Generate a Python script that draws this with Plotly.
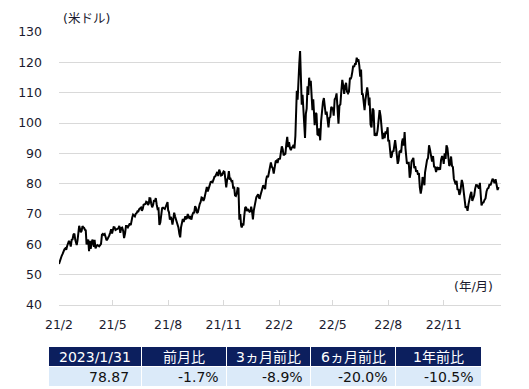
import calendar
import pandas as pd
import plotly.graph_objects as go

# ---- data: WTI daily closes (USD/bbl), read per month ----
months = ["2021-02", "2021-03", "2021-04", "2021-05", "2021-06", "2021-07", "2021-08",
          "2021-09", "2021-10", "2021-11", "2021-12", "2022-01", "2022-02", "2022-03",
          "2022-04", "2022-05", "2022-06", "2022-07", "2022-08", "2022-09", "2022-10",
          "2022-11", "2022-12", "2023-01"]

monthly_values = [
    [53.55, 54.76, 55.69, 56.23, 56.85, 57.97, 58.36, 58.68, 58.24, 59.47, 60.05, 61.14, 60.52, 59.24, 61.49, 61.67, 63.22, 63.53, 61.50],
    [60.64, 59.75, 61.28, 63.83, 66.09, 65.05, 64.01, 64.44, 66.02, 65.61, 65.39, 64.80, 64.60, 60.00, 61.42, 61.55, 57.76, 61.18, 58.56, 60.97, 61.56, 60.55, 59.16],
    [61.45, 58.65, 59.33, 59.77, 59.60, 59.32, 59.70, 60.18, 63.15, 63.46, 63.13, 63.38, 62.44, 61.35, 61.67, 62.14, 62.94, 63.86, 65.01, 63.58],
    [64.49, 65.69, 65.63, 64.71, 64.90, 65.11, 65.28, 66.08, 63.82, 65.37, 65.49, 64.49, 62.05, 63.58, 66.05, 66.07, 65.63, 66.21, 66.85, 66.32],
    [67.72, 68.83, 69.81, 69.62, 69.23, 70.05, 70.29, 70.91, 70.88, 71.64, 72.12, 72.15, 71.04, 71.64, 73.06, 73.08, 73.30, 74.05, 73.91, 72.98, 73.47],
    [75.23, 75.16, 73.37, 72.20, 72.94, 74.56, 74.10, 75.25, 73.13, 71.65, 71.81, 66.42, 67.20, 70.30, 71.91, 72.07, 71.91, 71.65, 72.39, 73.62, 73.95],
    [71.26, 70.56, 68.15, 69.09, 68.28, 66.48, 68.29, 70.44, 69.25, 68.44, 67.29, 66.59, 65.46, 63.50, 62.32, 65.64, 67.54, 68.36, 67.42, 68.74, 69.21, 68.50],
    [68.59, 69.99, 69.29, 68.35, 69.30, 68.14, 69.72, 70.45, 70.46, 72.61, 71.97, 70.29, 70.56, 72.23, 73.30, 73.98, 75.45, 75.29, 74.29, 75.03],
    [75.88, 77.62, 78.93, 77.43, 78.30, 79.35, 80.52, 80.64, 80.44, 81.31, 82.28, 82.44, 82.96, 83.87, 82.50, 84.65, 83.76, 82.66, 82.81, 83.57],
    [84.05, 83.91, 80.86, 78.81, 81.27, 81.93, 84.15, 81.34, 81.59, 80.79, 80.88, 78.36, 79.01, 76.10, 75.94, 76.75, 78.50, 78.39, 68.15, 69.95, 66.18],
    [65.57, 66.50, 66.26, 69.49, 72.05, 72.36, 70.94, 71.67, 71.29, 70.73, 70.87, 72.38, 70.86, 68.23, 71.12, 72.76, 73.79, 75.57, 75.98, 76.56, 75.33, 75.21],
    [76.08, 76.99, 77.85, 79.46, 78.90, 78.23, 81.22, 82.64, 82.12, 83.82, 85.43, 86.96, 85.55, 85.14, 83.31, 85.60, 87.35, 87.61, 86.82, 88.15],
    [88.20, 88.26, 90.27, 92.31, 91.32, 89.36, 89.66, 89.88, 93.10, 95.46, 92.07, 93.66, 91.76, 91.07, 91.91, 92.10, 92.81, 91.59, 95.72],
    [103.41, 110.60, 107.67, 115.68, 119.40, 123.70, 108.70, 106.02, 109.33, 103.01, 96.44, 95.04, 102.98, 104.70, 112.12, 109.27, 114.93, 112.34, 113.90, 105.96, 104.24, 107.82, 100.28],
    [99.27, 103.28, 102.96, 96.23, 96.03, 98.26, 94.29, 100.60, 104.25, 106.95, 108.21, 104.17, 102.75, 103.79, 101.70, 98.54, 101.70, 102.02, 105.36, 104.69],
    [105.17, 102.41, 107.81, 108.26, 109.77, 103.09, 99.76, 105.71, 106.13, 110.49, 114.20, 112.40, 109.59, 112.21, 113.23, 110.29, 109.77, 110.33, 114.67, 114.67],
    [115.26, 116.87, 118.87, 118.50, 119.41, 119.41, 121.51, 120.67, 120.93, 118.93, 115.31, 117.59, 109.56, 109.52, 106.19, 104.27, 107.62, 109.57, 111.76, 109.78, 105.76],
    [108.43, 99.50, 98.53, 104.79, 104.09, 95.84, 96.30, 95.78, 97.59, 102.60, 104.22, 102.26, 96.35, 94.70, 96.70, 94.98, 97.26, 96.42, 98.62],
    [93.89, 94.42, 90.66, 88.54, 89.01, 90.76, 90.50, 91.93, 94.34, 92.09, 89.41, 86.53, 87.65, 90.50, 90.77, 90.23, 93.74, 94.89, 92.52, 97.01, 91.64, 89.55],
    [86.61, 86.87, 86.88, 81.94, 83.54, 87.31, 87.78, 88.48, 85.10, 85.73, 83.94, 84.45, 82.94, 83.49, 78.74, 76.71, 78.50, 82.15, 81.23, 79.49],
    [83.63, 86.52, 87.76, 88.45, 92.64, 91.13, 89.35, 87.27, 89.11, 85.61, 85.46, 83.82, 85.55, 84.58, 85.32, 84.58, 87.91, 89.08, 87.90],
    [86.53, 90.00, 88.17, 92.61, 91.79, 88.91, 85.83, 86.47, 88.96, 85.87, 85.43, 81.64, 80.08, 79.73, 80.95, 77.94, 78.20, 76.28, 77.24, 80.55],
    [81.22, 79.98, 76.93, 74.25, 72.01, 72.58, 71.02, 73.17, 75.39, 76.28, 77.28, 74.29, 75.19, 76.09, 78.29, 79.56, 79.53, 78.96, 78.40, 80.26],
    [76.93, 72.84, 73.67, 73.77, 74.63, 75.12, 77.41, 78.39, 78.59, 79.86, 79.48, 80.33, 81.62, 81.01, 80.13, 81.47, 79.68, 77.90, 78.87],
]

tick_dates = ["2021-02-01", "2021-05-01", "2021-08-01", "2021-11-01",
              "2022-02-01", "2022-05-01", "2022-08-01", "2022-11-01"]
tick_labels = ["21/2", "21/5", "21/8", "21/11", "22/2", "22/5", "22/8", "22/11"]

table_header = ["2023/1/31", "前月比", "3ヵ月前比", "6ヵ月前比", "1年前比"]
table_values = ["78.87", "-1.7%", "-8.9%", "-20.0%", "-10.5%"]

# ---- place each month's trading-day values across that month ----
dates, prices = [], []
for m, vals in zip(months, monthly_values):
    start = pd.Timestamp(m + "-01")
    ndays = calendar.monthrange(start.year, start.month)[1]
    n = len(vals)
    for i, v in enumerate(vals):
        dates.append(start + pd.Timedelta(days=i * (ndays - 1) / (n - 1)))
        prices.append(v)

# page body has an 8px margin: build the figure 8px smaller and offset
OFF = 8
W, H = 529 - OFF, 389 - OFF
def fx(p):  # page x pixel -> paper fraction
    return (p - OFF) / W
def fy(p):  # page y pixel -> paper fraction
    return 1 - (p - OFF) / H

px_l, px_r, px_t, px_b = 59, 501, 32, 305
FONT = "Verdana, DejaVu Sans, Noto Sans CJK JP"
TXT = "#1a1a2e"

fig = go.Figure()
fig.add_trace(go.Scatter(x=dates, y=prices, mode="lines",
                         line=dict(color="black", width=2), showlegend=False,
                         xaxis="x", yaxis="y"))

# ---- summary table (shapes + text) ----
col_w = [92, 84, 83, 84, 85]
col_pad = [10, 5, 5, 5, 5]
tbl_x0, gap = 49, 1
hdr_top, row_h = 347, 19
body_top = hdr_top + row_h + 1
shapes, annotations = [], []
x = tbl_x0
for w, pad, h_txt, v_txt in zip(col_w, col_pad, table_header, table_values):
    shapes.append(dict(type="rect", xref="paper", yref="paper",
                       x0=fx(x), x1=fx(x + w), y0=fy(hdr_top + row_h), y1=fy(hdr_top),
                       fillcolor="#0c1f5e", line=dict(width=0), layer="below"))
    shapes.append(dict(type="rect", xref="paper", yref="paper",
                       x0=fx(x), x1=fx(x + w), y0=fy(body_top + row_h), y1=fy(body_top),
                       fillcolor="#dbeaf9", line=dict(width=0), layer="below"))
    annotations.append(dict(text=h_txt, xref="paper", yref="paper",
                            x=fx(x + w / 2), y=fy(hdr_top + row_h / 2),
                            xanchor="center", yanchor="middle", showarrow=False,
                            font=dict(size=14, color="white", family=FONT)))
    annotations.append(dict(text=v_txt, xref="paper", yref="paper",
                            x=fx(x + w - pad), y=fy(body_top + row_h / 2),
                            xanchor="right", yanchor="middle", showarrow=False,
                            font=dict(size=14, color="#111111", family=FONT)))
    x += w + gap

annotations += [
    dict(text="(米ドル)", xref="paper", yref="paper",
         x=fx(61), y=fy(18), xanchor="left", yanchor="middle",
         showarrow=False, font=dict(size=12.5, color=TXT, family=FONT)),
    dict(text="(年/月)", xref="paper", yref="paper",
         x=fx(495), y=fy(286), xanchor="right", yanchor="middle",
         showarrow=False, font=dict(size=12.5, color=TXT, family=FONT)),
]

fig.update_layout(
    width=W, height=H,
    margin=dict(l=0, r=0, t=0, b=0, autoexpand=False),
    paper_bgcolor="white", plot_bgcolor="white",
    font=dict(family=FONT, size=12, color=TXT),
    xaxis=dict(domain=[fx(px_l), fx(px_r)], type="date",
               range=["2021-02-01", "2023-02-04"],
               tickvals=tick_dates, ticktext=tick_labels,
               ticks="inside", ticklen=5, tickcolor="#d9d9d9", tickwidth=1,
               showline=True, linecolor="#d9d9d9", linewidth=1,
               showgrid=False, zeroline=False, automargin=False,
               tickfont=dict(size=12.5, color=TXT, family=FONT),
               ticklabelstandoff=8, anchor="y"),
    yaxis=dict(domain=[fy(px_b), fy(px_t)],
               range=[40, 130], dtick=10, tick0=40,
               showgrid=True, gridcolor="#d9d9d9", gridwidth=1,
               showline=False, zeroline=False, ticks="", automargin=False,
               tickfont=dict(size=12.5, color=TXT, family=FONT),
               ticklabelstandoff=16, anchor="x"),
    shapes=shapes,
    annotations=annotations,
)

fig.write_html("out.html")
